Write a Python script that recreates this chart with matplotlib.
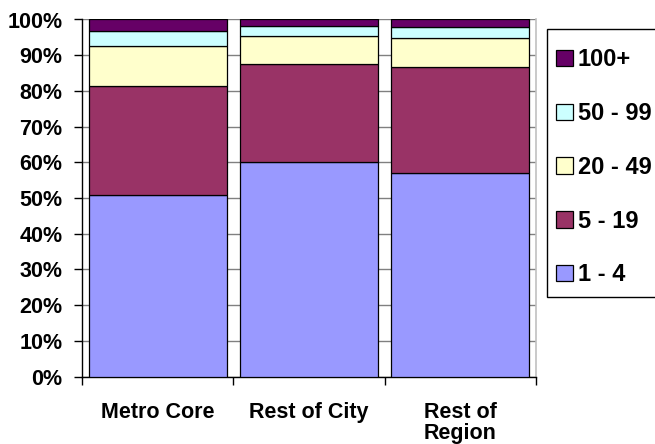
import matplotlib
matplotlib.use('Agg')
import matplotlib.pyplot as plt
from matplotlib.patches import Rectangle
from matplotlib.ticker import PercentFormatter, FixedLocator
import numpy as np

plt.rcParams.update({
    'font.family': ['Liberation Sans', 'DejaVu Sans'],
    'font.weight': 'bold',
    'font.size': 15.5,
})

# Data (share of firms, %)
categories = ['Metro Core', 'Rest of City', 'Rest of\nRegion']
size_bands = ['1 - 4', '5 - 19', '20 - 49', '50 - 99', '100+']
band_1_4 = [50.8, 60.0, 56.9]
band_5_19 = [30.6, 27.5, 29.7]
band_20_49 = [11.2, 7.9, 8.3]
band_50_99 = [4.2, 2.7, 2.9]
band_100p = [3.2, 1.9, 2.2]

colors = ['#9999FF', '#993366', '#FFFFCC', '#CCFFFF', '#660066']
series = [band_1_4, band_5_19, band_20_49, band_50_99, band_100p]

W, H = 655, 444
fig = plt.figure(figsize=(W / 100, H / 100), dpi=100)
ax = fig.add_axes([82 / W, 1 - 376.5 / H, (536 - 82) / W, (376.5 - 19.5) / H])

x = np.arange(len(categories))
bottom = np.zeros(len(categories))
handles = []
for label, vals, col in zip(size_bands, series, colors):
    b = ax.bar(x, vals, width=0.91, bottom=bottom, color=col, edgecolor='black',
               linewidth=0.9, label=label, zorder=3)
    handles.append(b)
    bottom += np.array(vals)

ax.set_xlim(-0.5, len(categories) - 0.5)
ax.set_ylim(0, 100)
ax.yaxis.set_major_locator(FixedLocator(np.arange(0, 101, 10)))
ax.yaxis.set_major_formatter(PercentFormatter(decimals=0))
ax.yaxis.grid(True, color='#808080', linewidth=1, zorder=0)

ax.set_xticks(x)
ax.set_xticklabels(categories, fontweight='bold', linespacing=1.0)
ax.tick_params(axis='x', which='major', length=0, pad=18)
ax.set_xticks(np.arange(-0.5, len(categories)), minor=True)
ax.tick_params(axis='x', which='minor', length=6, width=1, color='black')
ax.tick_params(axis='y', length=6, width=1, pad=8)
for lbl in ax.get_yticklabels():
    lbl.set_fontweight('bold')

ax.spines['top'].set_visible(False)
ax.spines['right'].set_color('#C0C0C0')
ax.spines['right'].set_linewidth(1.2)
ax.spines['left'].set_linewidth(1)
ax.spines['bottom'].set_linewidth(1)

# legend frame drawn separately (runs off the right edge like the original)
fig.patches.append(Rectangle((547 / W, 1 - 297.3 / H), 0.2, (297.3 - 29.3) / H,
                             transform=fig.transFigure, facecolor='white',
                             edgecolor='black', linewidth=1, zorder=1))
leg = fig.legend(handles[::-1], size_bands[::-1], loc='upper left',
                 bbox_to_anchor=(556 / W, 1 - 48.5 / H), frameon=False,
                 handlelength=0.7, handleheight=0.7, handletextpad=0.22,
                 labelspacing=1.3, borderpad=0, borderaxespad=0,
                 prop={'weight': 'bold', 'size': 17})
leg.set_zorder(2)

fig.savefig('out.png', dpi=100)
